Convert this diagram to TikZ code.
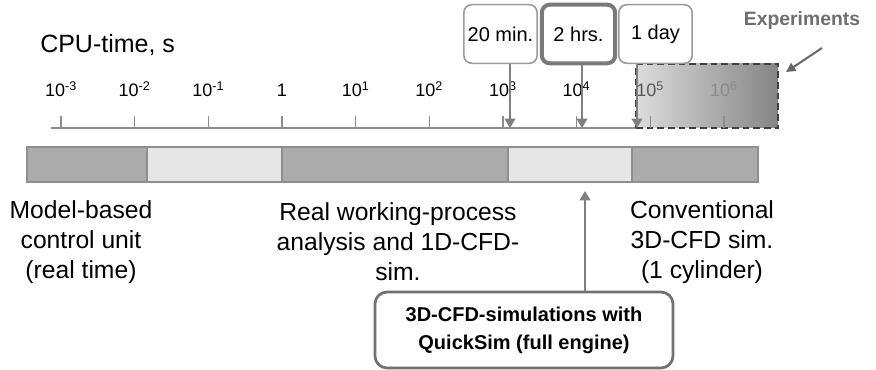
\documentclass[tikz,border=0pt]{standalone}
\usepackage{fontspec}
\setmainfont{Liberation Sans}
\usetikzlibrary{arrows.meta}

\definecolor{axisgray}{HTML}{8C8C8C}
\definecolor{bardark}{HTML}{ABABAB}
\definecolor{barlight}{HTML}{E6E6E6}
\definecolor{barline}{HTML}{8F8F8F}
\definecolor{boxline}{HTML}{9A9A9A}
\definecolor{boxthick}{HTML}{7A7A7A}
\definecolor{arrowgray}{HTML}{7F7F7F}
\definecolor{dashgray}{HTML}{404040}
\definecolor{expleft}{HTML}{DCDCDC}
\definecolor{expright}{HTML}{858585}
\definecolor{expgray}{HTML}{6E6E6E}
\definecolor{quickline}{HTML}{707070}

\begin{document}
\begin{tikzpicture}[x=0.75pt,y=-0.75pt,
    txt/.style={font=\fontsize{18.5}{22.5}\selectfont, align=center, inner sep=0pt},
    ticklbl/.style={font=\fontsize{13.5}{16}\selectfont, anchor=base, inner sep=0pt},
    tickline/.style={draw=axisgray, line width=1pt},
    axisline/.style={draw=axisgray, line width=1.5pt},
    timebox/.style={draw=boxline, line width=1.2pt, rounded corners=6pt, fill=white,
        minimum width=55pt, minimum height=44pt, inner sep=0pt,
        font=\fontsize{15}{18}\selectfont},
    downarrow/.style={draw=arrowgray, line width=1.3pt, -{Triangle[length=7pt,width=8pt]}},
    seg/.style={draw=barline, line width=1pt},
    expbox/.style={left color=expleft, right color=expright, draw=dashgray,
        line width=2.2pt, dash pattern=on 5pt off 3pt,
        minimum width=106.5pt, minimum height=48pt, inner sep=0pt},
    quickbox/.style={draw=quickline, line width=2pt, rounded corners=9pt, fill=white,
        minimum width=223.5pt, minimum height=57pt, align=center,
        font=\bfseries\fontsize{15}{21}\selectfont}]
\useasboundingbox (0,0) rectangle (876,370);

% time axis
\node[anchor=base west, inner sep=0pt, font=\fontsize{18.75}{22}\selectfont] (cpu) at (40,53) {CPU-time, s};
\draw[axisline] (51,128) -- (640,128);
\node[expbox] (expbox) at (707,96) {};
\foreach \k/\lbl/\col in {0/{10\textsuperscript{-3}}/black, 1/{10\textsuperscript{-2}}/black,
    2/{10\textsuperscript{-1}}/black, 3/{1}/black, 4/{10\textsuperscript{1}}/black,
    5/{10\textsuperscript{2}}/black, 6/{10\textsuperscript{3}}/black, 7/{10\textsuperscript{4}}/black,
    8/{10\textsuperscript{5}}/black!65, 9/{10\textsuperscript{6}}/black!45} {
  \draw[tickline] ({61+73.65*\k},116) -- ({61+73.65*\k},128);
  \node[ticklbl, text=\col] (t\k) at ({61+73.65*\k},97) {\lbl};
}

% experiments
\node[font=\bfseries\fontsize{14.5}{17}\selectfont, text=expgray] (exp) at (802,21) {Experiments};
\coordinate (expfrom) at (822,48);
\coordinate (expto) at (786,72);
\draw[draw=dashgray!80, line width=1.5pt, -{Triangle[length=7pt,width=7pt]}] (expfrom) -- (expto);

% time marks
\node[timebox] (min20) at (500.5,34) {20 min.};
\node[timebox, draw=boxthick, line width=3pt] (hrs2) at (578.5,34) {2 hrs.};
\node[timebox] (day1) at (655.5,34) {1 day};
\coordinate (m20) at (510,128);
\coordinate (h2) at (582,128);
\coordinate (d1) at (637,128);
\draw[downarrow] (min20.south -| m20) -- (m20);
\draw[downarrow] (hrs2.south -| h2) -- (h2);
\draw[downarrow] (day1.south -| d1) -- (d1);

% application bar
\foreach \a/\b/\c in {27/147/bardark, 147/282/barlight, 282/508/bardark,
    508/632/barlight, 632/758/bardark}
  \draw[seg, fill=\c] (\a,147) rectangle (\b,182);

\node[txt] (mbc) at (81,242) {Model-based\\control unit\\(real time)};
\node[txt] (rwp) at (398,242) {Real working-process\\analysis and 1D-CFD-\\sim.};
\node[txt] (conv) at (702,242) {Conventional\\3D-CFD sim.\\(1 cylinder)};

% QuickSim
\node[quickbox] (quick) at (524,330) {3D-CFD-simulations with\\QuickSim (full engine)};
\coordinate (qtip) at (585,191);
\draw[draw=arrowgray, line width=1.5pt, -{Triangle[length=7pt,width=8pt]}] (quick.north -| qtip) -- (qtip);
\end{tikzpicture}
\end{document}
